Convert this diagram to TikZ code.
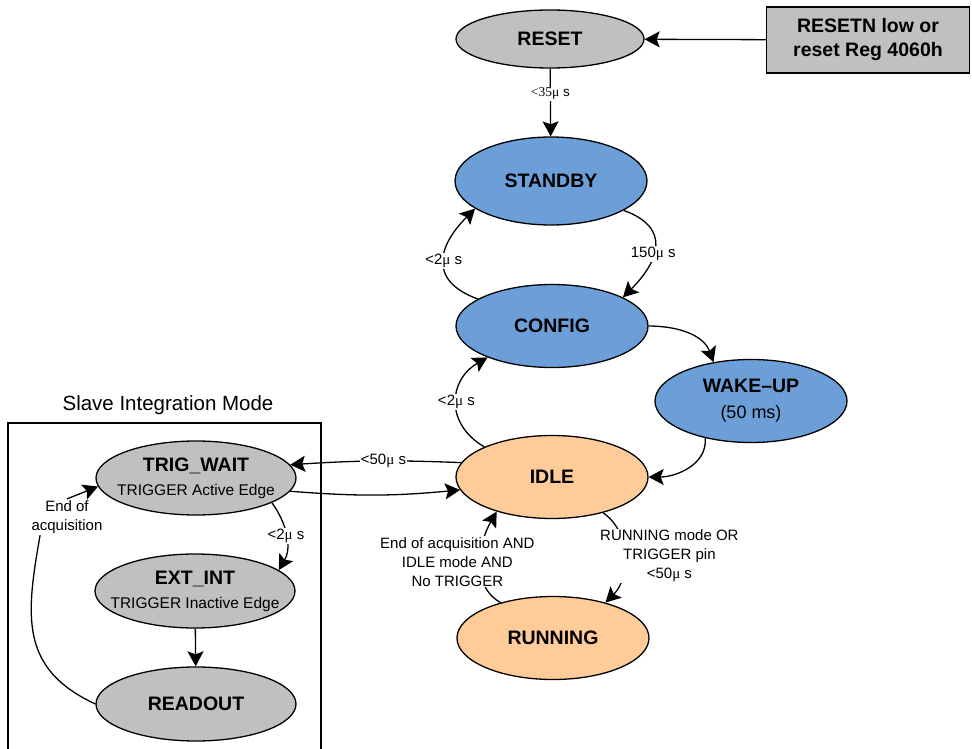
\documentclass[tikz,border=0pt]{standalone}
\usepackage{fontspec}
\setmainfont{Liberation Sans}
\newfontfamily\mufont{Liberation Serif}
\usetikzlibrary{shapes.geometric, arrows.meta}
\definecolor{stategrey}{RGB}{192,192,192}
\definecolor{stateblue}{RGB}{108,158,216}
\definecolor{statepeach}{RGB}{255,204,153}
\newcommand{\mus}{{\mufont μ} s}
\begin{document}
\begin{tikzpicture}[x = 1pt, y = 1pt, line width = 1.3pt,
	>={Stealth[length = 15pt, width = 16pt, inset = 3pt]},
	state/.style = {draw, ellipse, inner sep = 0pt, minimum width = 192pt, minimum height = 83pt, font = \fontsize{19.5}{26}\selectfont\bfseries},
	substate/.style = {state, fill = stategrey, minimum width = 200pt, minimum height = 74pt},
	trans/.style = {font = \fontsize{15}{19}\selectfont, fill = white, inner sep = 1pt, align = center}]
	\useasboundingbox (0, 0) rectangle (972, -749);
	\node[state, fill = stategrey, minimum width = 188pt, minimum height = 58pt] (reset) at (550, -39) {RESET};
	\node[draw, fill = stategrey, minimum width = 203pt, minimum height = 66pt, align = center, font = \fontsize{19.5}{24}\selectfont\bfseries] (resetsrc) at (868, -40) {RESETN low or\\reset Reg 4060h};
	\node[state, fill = stateblue, minimum height = 88pt] (standby) at (551, -181) {STANDBY};
	\node[state, fill = stateblue] (config) at (552, -326) {CONFIG};
	\node[state, fill = stateblue, align = center] (wakeup) at (751, -401) {WAKE--UP\\{\mdseries\fontsize{18}{22}\selectfont (50 ms)}};
	\node[state, fill = statepeach] (idle) at (552, -477) {IDLE};
	\node[state, fill = statepeach] (running) at (553, -638) {RUNNING};
	\node[font = \fontsize{20.5}{24}\selectfont] (slavetitle) at (168, -405) {Slave Integration Mode};
	\draw (8, -749) -- (8, -423) -- (321, -423) -- (321, -749);
	\node[substate] (trigwait) at (196, -478) {};
	\node[substate] (extint) at (195, -591) {};
	\node[substate] (readout) at (196, -704) {READOUT};
	\foreach \st/\title/\kind in {trigwait/TRIG\_WAIT/Active, extint/EXT\_INT/Inactive}{
		\node[anchor = base, font = \fontsize{19.5}{23}\selectfont\bfseries] (\st-title) at ([yshift = 6.5pt]\st) {\title};
		\node[anchor = base, font = \fontsize{15.5}{19}\selectfont] (\st-edge) at ([yshift = -17pt]\st) {TRIGGER \kind\ Edge};}
	\draw[->] (resetsrc) -- (reset);
	\draw[->] (reset) -- node[trans, pos = .37, font = \fontsize{13.5}{16}\selectfont] {{\mufont <35μ} s} (standby);
	\draw[->] (standby.-22) to[out = -20, in = 45, looseness = 1.5] node[trans, pos = .58] {150\mus} (config.22);
	\draw[->] (config.160) to[out = 160, in = -135, looseness = 1.5] node[trans] {<2\mus} (standby.200);
	\draw[->] (config.east) to[out = 0, in = 110] (wakeup.134);
	\draw[->] (wakeup.219) to[out = -85, in = 0] (idle.east);
	\draw[->] (idle.156) to[out = 150, in = -150, looseness = 1.3] node[trans] {<2\mus} (config.206);
	\draw[->] (idle.171) to[bend right = 3] node[trans, pos = .45] {<50\mus} (trigwait.8);
	\draw[->] (trigwait.-8) to[bend right = 5] (idle.-172);
	\draw[->] (trigwait.-18) to[out = -55, in = 60] node[trans] {<2\mus} (extint.14);
	\draw[->] (extint) -- (readout);
	\node[trans] (eoa) at (67, -517) {End of\\acquisition};
	\draw (readout.west) to[out = 155, in = -100, looseness = 1.2] (eoa.214);
	\draw[->] (eoa.north) -- (trigwait.185);
	\draw[->] (running.146) to[out = 150, in = -120] node[trans, xshift = -23pt] {End of acquisition AND\\IDLE mode AND\\No TRIGGER} (idle.212);
	\draw[->] (idle.-35) to[out = -35, in = 45] node[trans, xshift = 45pt] {RUNNING mode OR\\TRIGGER pin\\<50\mus} (running.34);
\end{tikzpicture}
\end{document}
